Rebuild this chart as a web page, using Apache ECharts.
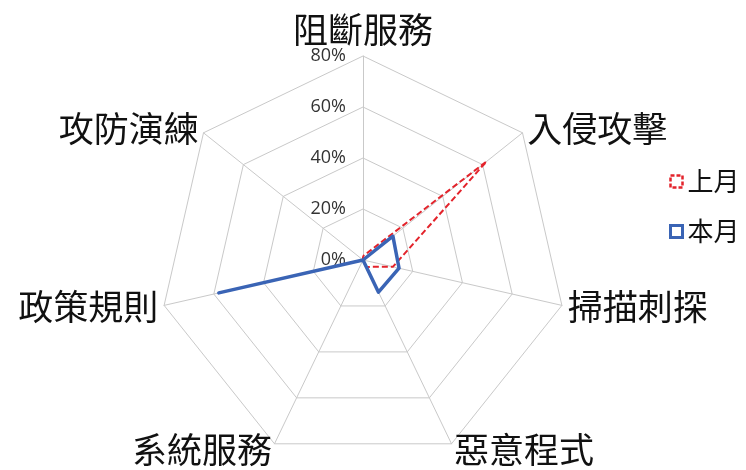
<!DOCTYPE html>
<html>
<head>
<meta charset="utf-8">
<script src="https://cdn.jsdelivr.net/npm/echarts@6/dist/echarts.min.js"></script>
<style>html,body{margin:0;padding:0;background:#fff;}#c{width:746px;height:470px;}</style>
</head>
<body>
<div id="c"></div>
<script>
// Categories in clockwise order starting from the top
const categories = ['阻斷服務', '入侵攻擊', '掃描刺探', '惡意程式', '系統服務', '政策規則', '攻防演練'];
const lastMonth = [1.5, 62, 12, 3, 0, 0, 0];   // 上月 (%)
const thisMonth = [0, 15, 14.5, 14, 0, 58, 0];  // 本月 (%)
const seriesNames = ['上月', '本月'];
const axisMax = 80;

// ECharts lays indicators counter-clockwise; reorder to draw clockwise
const order = [0, 6, 5, 4, 3, 2, 1];
const reorder = arr => order.map(i => arr[i]);

const FONT = '"Noto Sans CJK TC", "Noto Sans CJK SC", sans-serif';
const RED = '#e3232b';
const BLUE = '#3a64b5';

const indicator = order.map((i, k) => ({
  name: categories[i],
  min: 0,
  max: axisMax,
  axisLabel: k === 0 ? { show: true } : { show: false }
}));

const chart = echarts.init(document.getElementById('c'), null, { renderer: 'canvas' });
chart.setOption({
  animation: false,
  backgroundColor: '#ffffff',
  legend: {
    orient: 'vertical',
    left: 664,
    top: 163,
    itemWidth: 12,
    itemHeight: 12,
    itemGap: 23,
    textStyle: { fontFamily: FONT, fontSize: 26, color: '#111', lineHeight: 27 },
    data: [
      { name: seriesNames[0], icon: 'rect', itemStyle: { color: '#fff', borderColor: RED, borderWidth: 2.5, borderType: [4, 2] } },
      { name: seriesNames[1], icon: 'rect', itemStyle: { color: '#fff', borderColor: BLUE, borderWidth: 3 } }
    ]
  },
  radar: {
    center: [363, 260],
    radius: 204,
    startAngle: 90,
    shape: 'polygon',
    splitNumber: 4,
    indicator: indicator,
    nameGap: 6,
    axisName: { fontFamily: FONT, fontSize: 35, color: '#111' },
    axisLine: { lineStyle: { color: '#c9c9c9', width: 1 } },
    splitLine: { lineStyle: { color: '#c9c9c9', width: 1 } },
    splitArea: { show: false },
    axisTick: { show: false },
    axisLabel: {
      show: false,
      fontFamily: '"Open Sans", sans-serif',
      fontSize: 18,
      color: '#333333',
      margin: 17,
      formatter: v => v + '%'
    }
  },
  series: [{
    type: 'radar',
    symbol: 'none',
    data: [
      { name: seriesNames[0], value: reorder(lastMonth),
        lineStyle: { color: RED, width: 2, type: [6, 3] }, itemStyle: { color: RED } },
      { name: seriesNames[1], value: reorder(thisMonth),
        lineStyle: { color: BLUE, width: 3.5 }, itemStyle: { color: BLUE } }
    ]
  }]
});
</script>
</body>
</html>
